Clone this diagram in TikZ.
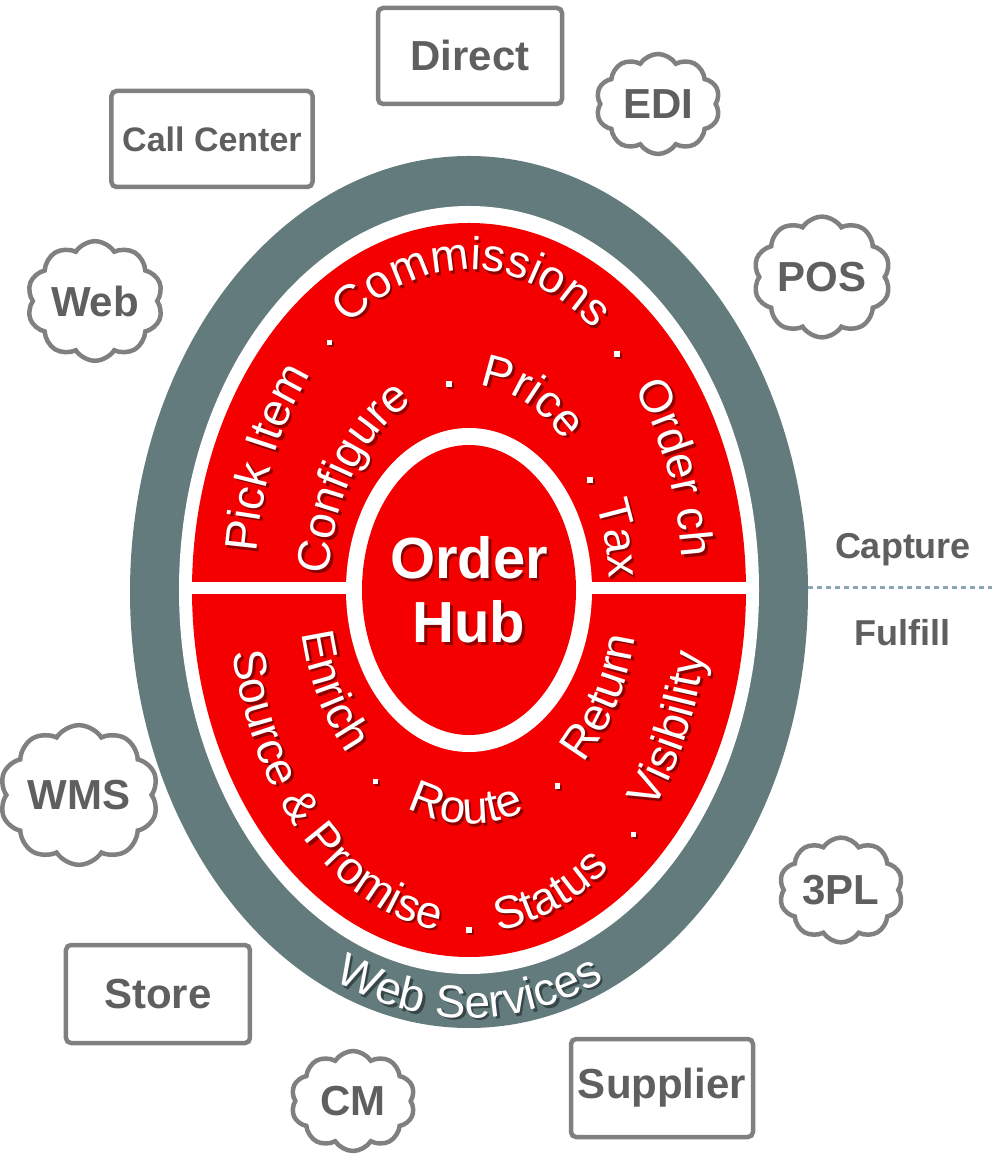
\documentclass[tikz,border=0pt]{standalone}
\usepackage{fontspec}
\setmainfont{Liberation Sans}
\usetikzlibrary{shapes.symbols, positioning}
\definecolor{ringGray}{RGB}{99,123,125}
\definecolor{hubRed}{RGB}{245,0,0}
\definecolor{boxGray}{RGB}{128,128,128}
\definecolor{labelGray}{RGB}{95,95,95}
\definecolor{splitBlue}{RGB}{140,165,180}
\definecolor{shadowRed}{RGB}{140,0,0}
\definecolor{shadowGray}{RGB}{55,70,72}
\font\ringRaw="Liberation Sans" at 11.5pt
\tikzset{
    chanBox/.style={draw=boxGray, line width=1.125pt, rounded corners=1.25pt, minimum width=46pt, minimum height=24pt, inner sep=0pt, text=labelGray, font=\fontsize{10.5}{11}\selectfont\bfseries},
    chanCloud/.style={cloud, cloud puffs=10, cloud puff arc=115, aspect=1.2, draw=boxGray, line width=1.125pt, minimum width=31pt, minimum height=25pt, inner sep=0pt, text=labelGray, font=\fontsize{10.5}{11}\selectfont\bfseries},
    sepDot/.style={rectangle, fill=white, minimum size=1.4pt, inner sep=0pt},
    ringChar/.style={inner sep=0pt, anchor=base, text=white, font=\ringRaw},
    phaseLabel/.style={text=labelGray, font=\fontsize{9}{10}\selectfont\bfseries},
    hubText/.style={align=center, text=white, font=\fontsize{14.5}{16}\selectfont\bfseries},
    splitLine/.style={draw=splitBlue, line width=0.75pt, dash pattern=on 1.25pt off 1pt},
}
\newdimen\ringW
\newdimen\ringS
% #2/#3 radii, #4 centre angle, #5 = 1 (anticlockwise) or -1 (clockwise), #6 letters
\newcommand{\ringWord}[6][shadowRed]{
    \global\ringW=0pt
    \foreach \ch in {#6}{\setbox0=\hbox{\ringRaw\ch}\global\advance\ringW by \wd0}
    \global\ringS=-0.5\ringW
    \foreach \ch in {#6}{
        \setbox0=\hbox{\ringRaw\ch}
        \pgfmathsetmacro{\ringMid}{\ringS+0.5*\wd0}
        \pgfmathsetmacro{\ringT}{#4+(#5)*\ringMid/(0.4363*veclen(#2*sin(#4)/100,#3*cos(#4)/100))}
        \pgfmathsetmacro{\ringT}{#4+(#5)*\ringMid/(0.4363*veclen(#2*sin((#4+\ringT)/2)/100,#3*cos((#4+\ringT)/2)/100))}
        \pgfmathsetmacro{\ringRot}{atan2((#5)*#3*cos(\ringT),(#5)*(-#2)*sin(\ringT))}
        \global\advance\ringS by \wd0
        \node[ringChar, text=#1, rotate=\ringRot] at ([shift={(2.5,-2.5)}]\ringT:#2 and #3) {\ch};
        \node[ringChar, rotate=\ringRot] at (\ringT:#2 and #3) {\ch};
    }
}
\newcommand{\ringDot}[3]{
    \node[sepDot, fill=shadowRed] at ([shift={(2,-2)}]#1:#2 and #3) {};
    \node[sepDot] at (#1:#2 and #3) {};
}

\begin{document}
\begin{tikzpicture}[x=0.25pt, y=0.25pt]
    \useasboundingbox (-469,-564) rectangle (523,590);

    % the rings
    \fill[ringGray] (0,-2) ellipse (339 and 436);
    \fill[white] (0,0) ellipse (290 and 384);
    \fill[hubRed] (0,0) ellipse (277 and 367);
    \fill[white] (-286,-4) rectangle (286,8);
    \fill[white] (0,0) ellipse (123 and 162);
    \fill[hubRed] (0,0) ellipse (107 and 145);

    \node[hubText, text=shadowRed] at (2.5,-2.5) {Order\\Hub};
    \node[hubText] (hub) at (0,0) {Order\\Hub};

    % capture side
    \ringWord{214}{320}{156}{-1}{P,i,c,k,~,I,t,e,m}
    \ringWord{214}{320}{89}{-1}{C,o,m,m,i,s,s,i,o,n,s}
    \ringWord{214}{320}{22}{-1}{O,r,d,e,r,~,c,h}
    \ringDot{130}{217}{323}
    \ringDot{47}{217}{323}

    \ringWord{140}{205}{147}{-1}{C,o,n,f,i,g,u,r,e}
    \ringWord{140}{205}{65}{-1}{P,r,i,c,e}
    \ringWord{140}{205}{14}{-1}{T,a,x}
    \ringDot{98}{143}{208}
    \ringDot{32}{143}{208}

    % fulfill side
    \ringWord{240}{343}{223}{1}{S,o,u,r,c,e,~,\&,~,P,r,o,m,i,s,e}
    \ringWord{240}{343}{292}{1}{S,t,a,t,u,s}
    \ringWord{240}{343}{335}{1}{V,i,s,i,b,i,l,i,t,y}
    \ringDot{270}{237}{340}
    \ringDot{314}{237}{340}

    \ringWord{170}{234}{207}{1}{E,n,r,i,c,h}
    \ringWord{170}{234}{269}{1}{R,o,u,t,e}
    \ringWord{170}{234}{331}{1}{R,e,t,u,r,n}
    \ringDot{236}{167}{231}
    \ringDot{302}{167}{231}

    \ringWord[shadowGray]{330}{428}{270}{1}{W,e,b,~,S,e,r,v,i,c,e,s}

    % channels around the hub
    \node[chanBox] (direct) at (1,534) {Direct};
    \node[chanBox, minimum width=50.25pt, font=\fontsize{8.5}{9}\selectfont\bfseries] (callcenter) at (-257,451) {Call Center};
    \node[chanBox, minimum height=24.5pt] (store) at (-311,-404) {Store};
    \node[chanBox, minimum width=45.5pt, minimum height=24.5pt] (supplier) at (193,-498) {Supplier};

    \node[chanCloud] (edi) at (189,486) {EDI};
    \node[chanCloud] (pos) at (353,313) {POS};
    \node[chanCloud] (web) at (-374,289) {Web};
    \node[chanCloud] (wms) at (-390,-205) {WMS};
    \node[chanCloud] (tpl) at (372,-300) {3PL};
    \node[chanCloud] (cm) at (-116,-511) {CM};

    % capture / fulfill split
    \node[phaseLabel] (capture) at (434,40) {Capture};
    \node[phaseLabel] (fulfill) at (433,-43) {Fulfill};
    \coordinate (split) at (339,2);
    \draw[splitLine] (split) -- ++(184,0);

\end{tikzpicture}
\end{document}
